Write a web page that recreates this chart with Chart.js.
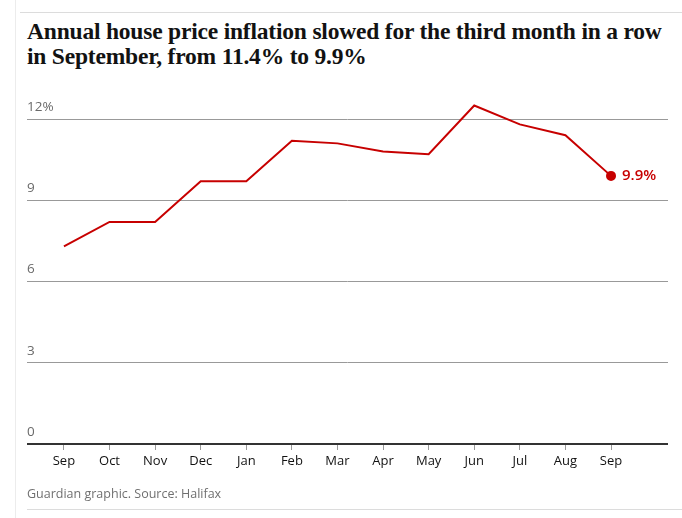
<!DOCTYPE html>
<html>
<head>
<meta charset="utf-8">
<script src="https://cdn.jsdelivr.net/npm/chart.js@4/dist/chart.umd.min.js"></script>
<style>
  body { margin: 0; background: #fff; }
  #wrap { position: relative; width: 682px; height: 518px; overflow: hidden; }
  #leftrule { position: absolute; left: 15px; top: 0; width: 1px; height: 518px; background: #ececec; }
  #toprule { position: absolute; left: 20px; right: 0; top: 12px; height: 1px; background: #dcdcdc; }
  #bottomrule { position: absolute; left: 27px; right: 0; top: 509px; height: 1px; background: #dcdcdc; }
  #title { position: absolute; left: 27px; top: 19px; white-space: nowrap; font-family: "Liberation Serif", serif; font-weight: bold; font-size: 23.5px; line-height: 25px; color: #121212; letter-spacing: -0.2px; }
  #source { position: absolute; left: 27px; top: 485px; font-family: "Open Sans", sans-serif; font-size: 12.5px; color: #707070; }
  canvas { position: absolute; left: 0; top: 0; }
</style>
</head>
<body>
<div id="wrap">
  <div id="leftrule"></div>
  <div id="toprule"></div>
  <div id="title">Annual house price inflation slowed for the third month in a row<br>in September, from 11.4% to 9.9%</div>
  <canvas id="chart" width="682" height="518"></canvas>
  <div id="source">Guardian graphic. Source: Halifax</div>
  <div id="bottomrule"></div>
</div>
<script>
const months = ["Sep", "Oct", "Nov", "Dec", "Jan", "Feb", "Mar", "Apr", "May", "Jun", "Jul", "Aug", "Sep"];
const inflation = [7.3, 8.2, 8.2, 9.7, 9.7, 11.2, 11.1, 10.8, 10.7, 12.5, 11.8, 11.4, 9.9];
const yTicks = [0, 3, 6, 9, 12];

const red = "#c70000";

// label next to the last point
const endLabel = {
  id: "endLabel",
  afterDatasetsDraw(chart) {
    const meta = chart.getDatasetMeta(0);
    const pt = meta.data[meta.data.length - 1];
    const ctx = chart.ctx;
    ctx.save();
    ctx.font = "600 15px 'Open Sans', sans-serif";
    ctx.fillStyle = red;
    ctx.textAlign = "left";
    ctx.textBaseline = "middle";
    ctx.fillText(inflation[inflation.length - 1] + "%", pt.x + 11, pt.y);
    ctx.restore();
  },
};

new Chart(document.getElementById("chart"), {
  type: "line",
  data: {
    datasets: [
      {
        data: inflation.map((v, i) => ({ x: i, y: v })),
        borderColor: red,
        backgroundColor: red,
        borderWidth: 2,
        tension: 0,
        clip: false,
        pointRadius: inflation.map((v, i) => (i === inflation.length - 1 ? 4 : 0)),
        pointHoverRadius: 0,
      },
    ],
  },
  options: {
    responsive: false,
    animation: false,
    events: [],
    layout: { padding: { left: 27, right: 14, top: 119, bottom: 44 } },
    plugins: { legend: { display: false }, tooltip: { enabled: false } },
    scales: {
      x: {
        type: "linear",
        min: -0.81,
        max: 13.25,
        afterBuildTicks: (axis) => {
          axis.ticks = months.map((m, i) => ({ value: i }));
        },
        afterFit: (axis) => {
          axis.height = 30;
        },
        border: { display: false },
        grid: { drawOnChartArea: false, drawTicks: true, tickLength: 6, tickColor: "#999", lineWidth: 1 },
        ticks: {
          autoSkip: false,
          maxRotation: 0,
          padding: 3,
          color: "#121212",
          font: { family: "'Open Sans', sans-serif", size: 13 },
          callback: (v) => months[v],
        },
      },
      y: {
        min: 0,
        max: 12,
        afterBuildTicks: (axis) => {
          axis.ticks = yTicks.map((v) => ({ value: v }));
        },
        afterFit: (axis) => {
          axis.width = 0;
        },
        border: { display: false },
        grid: {
          drawTicks: false,
          color: (c) => (c.tick && c.tick.value === 0 ? "#333" : "#999"),
          lineWidth: (c) => (c.tick && c.tick.value === 0 ? 2 : 1),
        },
        ticks: {
          mirror: true,
          padding: 0,
          labelOffset: -12,
          color: "#6a6a6a",
          font: { family: "'Open Sans', sans-serif", size: 13.5 },
          callback: (v) => (v === 12 ? v + "%" : v),
        },
      },
    },
  },
  plugins: [endLabel],
});
</script>
</body>
</html>
